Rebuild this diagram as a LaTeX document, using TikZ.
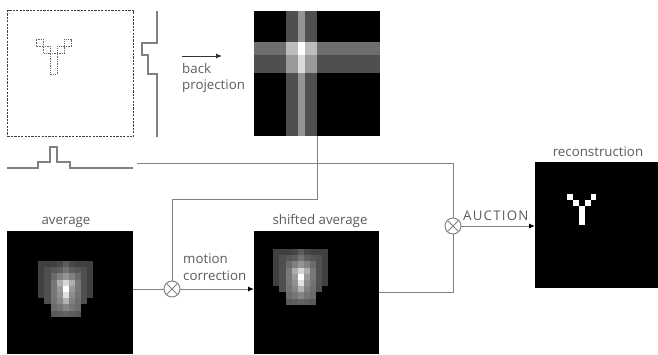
\documentclass[tikz,border=0pt]{standalone}
\usepackage{fontspec}
\setmainfont{Open Sans}
\usetikzlibrary{arrows.meta}
\definecolor{ln}{gray}{0.5}
\definecolor{tx}{gray}{0.36}
\tikzset{
  conn/.style={draw=ln, line width=1pt},
  arr/.style={conn, -{Latex[length=6pt,width=5pt,black]}},
  img/.style={fill=black, inner sep=0pt, outer sep=0pt, anchor=north west},
  mult/.style={circle, draw=ln, line width=0.9pt, minimum size=16pt, inner sep=0pt, fill=white},
  lbl/.style={text=tx, font=\fontsize{13.3}{16.5}\selectfont, inner sep=0pt},
  profile/.style={draw=ln, line width=1.1pt},
}
\newcommand\gpx[3]{\fill[fill={rgb,1:red,#3;green,#3;blue,#3}] (#1*6.1,#2*6.2) rectangle ++(6.1,6.2);}
\newcommand\drawblob{%
  \foreach \r/\vals in {
    0/{.25,.25,.25,.28,.36,.28,.25,.25,.25},
    1/{.25,.31,.34,.37,.45,.37,.34,.31,.25},
    2/{.25,.31,.42,.50,.58,.50,.42,.31,.25},
    3/{.25,.31,.47,.68,.84,.68,.47,.31,.25},
    4/{.25,.31,.47,.60,1.0,.60,.47,.31,.25},
    5/{.25,.31,.47,.57,.88,.55,.45,.31,.25},
    6/{0,.31,.45,.53,.70,.50,.43,.31,0},
    7/{0,0,.42,.46,.52,.46,.42,0,0},
    8/{0,0,.35,.37,.39,.37,.35,0,0}}{%
    \foreach \v [count=\c from 0] in \vals {\gpx{\c}{\r}{\v}}}}
\begin{document}
\begin{tikzpicture}[x=1pt,y=-1pt]
\useasboundingbox[fill=white] (0,0) rectangle (658,354);

% object with dashed frame
\node[draw=black!75, dash pattern=on 2.2pt off 1.2pt, line width=1.3pt,
      minimum width=126pt, minimum height=126pt, anchor=north west, inner sep=0pt] (obj) at (7,10) {};
\draw[black!60, dash pattern=on 1.3pt off 1pt, line width=0.9pt]
  (36,39) -- (43,39) -- (43,46) -- (50,46) -- (50,53) -- (57,53) -- (57,46)
  -- (64,46) -- (64,39) -- (71,39) -- (71,46) -- (64,46) -- (64,53) -- (57,53)
  -- (57,74) -- (50,74) -- (50,53) -- (43,53) -- (43,46) -- (36,46) -- cycle;

% projections
\draw[profile] (157,11) -- (157,43) -- (142,43) -- (142,55) -- (148,55) -- (148,74) -- (157,74) -- (157,137);
\draw[profile] (7,168) -- (38,168) -- (38,162) -- (50,162) -- (50,147) -- (57,147) -- (57,162) -- (70,162) -- (70,168) -- (133,168);

% back projection image
\node[img, minimum width=126pt, minimum height=125pt] (bp) at (254,11) {};
\fill[black!57] (254,41.7) rectangle (380,55);
\fill[black!69] (254,55) rectangle (380,73.3);
\fill[black!69] (285.7,11) rectangle (298,136);
\fill[black!69] (305,11) rectangle (317,136);
\fill[black!42] (298,11) rectangle (305,136);
\fill[black!26] (285.7,41.7) rectangle (298,55);
\fill[black!26] (305,41.7) rectangle (317,55);
\fill[black!40] (285.7,55) rectangle (298,73.3);
\fill[black!40] (305,55) rectangle (317,73.3);
\fill[white] (298,41.7) rectangle (305,55);
\fill[black!15] (298,55) rectangle (305,73.3);

\coordinate (bpa) at (182,56);
\coordinate (bpb) at (222,56);
\draw[-{Latex[length=6pt,width=5pt]}, black!80, line width=0.9pt] (bpa) -- (bpb);
\node[lbl, anchor=north west, align=left] (bplbl) at (182,63) {back\\projection};

% average and shifted average
\node[img, minimum width=126pt, minimum height=123pt] (avg) at (7,231) {};
\begin{scope}[shift={(38.3,261)}] \drawblob \end{scope}
\node[lbl, anchor=base] (avglbl) at (66,224) {average};

\node[img, minimum width=125pt, minimum height=123pt] (shavg) at (254,231) {};
\begin{scope}[shift={(273.3,249)}] \drawblob \end{scope}
\node[lbl, anchor=base] (shlbl) at (320,224) {shifted average};

% reconstruction
\node[img, minimum width=123pt, minimum height=126pt] (recon) at (535,162) {};
\begin{scope}[shift={(566.7,194)}]
  \foreach \c/\r in {0/0,4/0,1/1,3/1,2/2,2/3,2/4}
    \fill[white] (\c*5.95,\r*6.1) rectangle ++(5.95,6.1);
\end{scope}
\node[lbl, anchor=base] (reclbl) at (598,156) {reconstruction};

% multipliers
\node[mult] (m1) at (172,289) {};
\node[mult] (m2) at (453,226) {};
\foreach \m in {m1,m2}{
  \draw[ln, line width=0.8pt] (\m.north east) -- (\m.south west) (\m.north west) -- (\m.south east);}

% connectors
\coordinate (pr) at (137,163);
\coordinate (fb) at (172,199);
\draw[conn] (pr) -| (m2.north);
\draw[conn] (bp.south) |- (fb) -- (m1.north);
\draw[conn] (avg.east |- m1) -- (m1.west);
\draw[arr] (m1.east) -- (m1 -| shavg.west);
\draw[conn] (shavg.east) -| (m2.south);
\draw[arr] (m2.east) -- (m2 -| recon.west);

\node[lbl, anchor=north west, align=left] (mclbl) at (183,254) {motion\\correction};
\node[lbl, anchor=base west, font=\fontsize{13.3}{16.5}\selectfont\addfontfeature{LetterSpace=9}] (aulbl) at (463,220) {AUCTION};
\end{tikzpicture}
\end{document}
